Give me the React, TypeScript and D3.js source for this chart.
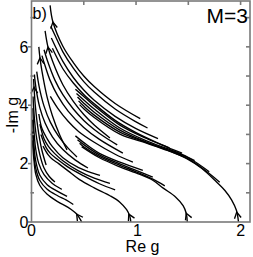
import React from 'react'
import * as d3 from 'd3'

// flow lines, grouped by the fixed point they leave from (Re g, -Im g)
// family ending at g = 2
const f4a = [[0.178,7.42],[0.205,6.85],[0.3,6.02],[0.4,5.46],[0.5,5.0],[0.6,4.64],[0.8,4.06],[1.04,3.54]]
const f4b = [[0.185,6.7],[0.25,6.2],[0.3,5.83],[0.4,5.27],[0.5,4.81],[0.6,4.45],[0.8,3.87],[1.0,3.43],[1.11,3.22]]
const f4c = [[0.19,6.3],[0.3,5.5],[0.4,4.95],[0.5,4.52],[0.6,4.17],[0.8,3.62],[1.0,3.2],[1.21,2.86]]
const f4d = [[0.2,5.95],[0.3,5.25],[0.4,4.76],[0.5,4.37],[0.6,4.05],[0.8,3.48],[1.0,3.06],[1.2,2.72],[1.32,2.54]]
const f4e = [[0.42,4.55],[0.5,4.3],[0.6,3.98],[0.845,3.32],[1.1,2.86],[1.3,2.56],[1.44,2.36]]
const f4f = [[0.43,4.4],[0.5,4.18],[0.6,3.87],[0.845,3.22],[1.1,2.78],[1.3,2.51],[1.45,2.3],[1.56,2.1]]
const f4g = [[0.44,4.28],[0.5,4.07],[0.6,3.76],[0.845,3.15],[1.1,2.74],[1.3,2.48],[1.5,2.2],[1.7,1.72]]
const f4h = [[0.45,4.15],[0.5,3.97],[0.6,3.66],[0.845,3.08],[1.1,2.72],[1.3,2.46],[1.5,2.16],[1.7,1.66],[1.8,1.36]]
const f4m = [[0.46,4.02],[0.5,3.88],[0.6,3.58],[0.845,3.01],[1.1,2.7],[1.3,2.45],[1.485,2.17],[1.63,1.83],[1.77,1.37],[1.85,1.08],[1.915,0.75],[1.96,0.4],[1.98,0]]

// family ending at g = 1.5
const f3a = [[0.13,6.55],[0.158,5.99],[0.2,5.52],[0.3,4.7],[0.4,4.13],[0.5,3.68],[0.6,3.32],[0.75,2.88]]
const f3b = [[0.12,5.9],[0.15,5.55],[0.224,4.86],[0.3,4.36],[0.4,3.87],[0.5,3.48],[0.6,3.17],[0.7,2.91],[0.82,2.64]]
const f3c = [[0.1,5.7],[0.13,5.35],[0.177,4.86],[0.25,4.33],[0.35,3.8],[0.5,3.24],[0.65,2.83],[0.874,2.36]]
const f3d = [[0.18,4.3],[0.25,3.9],[0.35,3.45],[0.45,3.1],[0.6,2.73],[0.8,2.32],[0.97,2.05]]
const f3e = [[0.42,2.95],[0.5,2.72],[0.65,2.35],[0.845,2.05],[1.065,1.77]]
const f3f = [[0.44,2.82],[0.5,2.65],[0.65,2.3],[0.845,1.99],[1.0,1.77],[1.16,1.54]]
const f3g = [[0.46,2.7],[0.5,2.58],[0.65,2.25],[0.845,1.94],[1.0,1.72],[1.16,1.47],[1.275,1.24]]
const f3m = [[0.48,2.58],[0.65,2.2],[0.845,1.89],[1.0,1.68],[1.16,1.43],[1.26,1.16],[1.38,0.85],[1.45,0.56],[1.48,0.3],[1.49,0]]

// family ending at g = 1
const f2a = [[0.07,6.0],[0.081,5.62],[0.1,5.17],[0.15,4.27],[0.2,3.64],[0.27,2.98],[0.34,2.47]]
const f2b = [[0.05,5.15],[0.062,4.86],[0.08,4.52],[0.12,3.97],[0.18,3.42],[0.26,2.93],[0.35,2.53],[0.435,2.23]]
const f2c = [[0.028,5.05],[0.033,4.86],[0.05,4.42],[0.08,3.91],[0.13,3.39],[0.2,2.92],[0.3,2.48],[0.42,2.12],[0.54,1.85]]
const f2d = [[0.07,3.7],[0.1,3.2],[0.15,2.85],[0.2,2.58],[0.3,2.2],[0.45,1.86],[0.55,1.72],[0.655,1.6]]
const f2e = [[0.08,3.35],[0.12,2.85],[0.16,2.6],[0.22,2.35],[0.3,2.1],[0.45,1.75],[0.6,1.5],[0.75,1.32]]
const f2f = [[0.09,3.0],[0.14,2.55],[0.18,2.35],[0.24,2.17],[0.35,1.88],[0.5,1.58],[0.65,1.31],[0.8,1.1]]
const f2m = [[0.11,2.6],[0.16,2.3],[0.2,2.15],[0.26,2.0],[0.35,1.75],[0.46,1.45],[0.6,1.17],[0.75,0.9],[0.845,0.68],[0.91,0.42],[0.94,0.2],[0.95,0]]

// family ending at g = 0.5
const f1a = [[0.02,4.9],[0.024,4.62],[0.035,4.05],[0.05,3.52],[0.075,2.9],[0.1,2.45],[0.14,1.95]]
const f1b = [[0.015,4.3],[0.02,3.95],[0.03,3.45],[0.05,2.85],[0.08,2.3],[0.12,1.85],[0.17,1.56],[0.224,1.37]]
const f1c = [[0.013,3.9],[0.02,3.3],[0.04,2.5],[0.07,2.0],[0.12,1.62],[0.2,1.32],[0.29,1.12]]
const f1d = [[0.011,3.5],[0.02,2.8],[0.04,2.1],[0.08,1.6],[0.15,1.28],[0.25,1.05],[0.34,0.88]]
const f1e = [[0.01,3.1],[0.02,2.5],[0.04,1.85],[0.08,1.42],[0.15,1.12],[0.25,0.9],[0.33,0.76],[0.4,0.6]]
const f1m = [[0.009,2.8],[0.02,2.25],[0.04,1.65],[0.08,1.25],[0.15,0.95],[0.25,0.7],[0.35,0.5],[0.43,0.28],[0.465,0.1],[0.48,0]]

// where the arrow heads sit: line name and -Im g at the tip
const arrowLine = ['f4a','f3a','f2a','f1a','f4m','f3m','f2m','f1m']
const arrowY = [6.85, 5.99, 5.62, 4.62, 0.34, 0.3, 0.27, 0.27]

const xTicks = [0, 1, 2]
const yTicks = [0, 2, 4, 6]
const yMinor = [1, 3, 5, 7]
const topTicks = [0.5, 1, 1.5, 2]
const rightTicks = [1, 2, 3, 4, 5, 6, 7]

const flowLines: Record<string, number[][]> = {
  f4a, f4b, f4c, f4d, f4e, f4f, f4g, f4h, f4m,
  f3a, f3b, f3c, f3d, f3e, f3f, f3g, f3m,
  f2a, f2b, f2c, f2d, f2e, f2f, f2m,
  f1a, f1b, f1c, f1d, f1e, f1m,
}

const font = 'Liberation Sans, Arial, Helvetica, sans-serif'

export default function App() {
  const width = 253
  const height = 257
  const x = d3.scaleLinear().domain([0, 2.09]).range([31.5, 250])
  const y = d3.scaleLinear().domain([0, 7.57]).range([222, 1])
  const line = d3.line<number[]>()
    .x(d => x(d[0]))
    .y(d => y(d[1]))
    .curve(d3.curveCatmullRom.alpha(0.5))

  const arrows = arrowLine.map((name, i) => {
    const pts = flowLines[name]
    const yv = arrowY[i]
    for (let k = 0; k < pts.length - 1; k++) {
      const [x0, y0] = pts[k]
      const [x1, y1] = pts[k + 1]
      if (yv <= y0 && yv >= y1) {
        const t = (y0 - yv) / (y0 - y1)
        const tx = x(x0 + t * (x1 - x0))
        const ty = y(yv)
        let dx = x(x0) - x(x1)
        let dy = y(y0) - y(y1)
        const len = Math.hypot(dx, dy)
        dx /= len; dy /= len
        const L = 7, a = 0.5
        const arm = (s: number) => {
          const c = Math.cos(s * a), sn = Math.sin(s * a)
          const bx = -dx * c + dy * sn
          const by = -dx * sn - dy * c
          return [tx + L * bx, ty + L * by]
        }
        const p1 = arm(1), p2 = arm(-1)
        return `M${p1[0]},${p1[1]}L${tx},${ty}L${p2[0]},${p2[1]}`
      }
    }
    return ''
  })

  return (
    <svg width={width} height={height} style={{position: 'absolute', left: 0, top: 0}}>
      <rect width={width} height={height} fill="white" />
      <g fill="none" stroke="black" strokeWidth={1.35}>
        {Object.keys(flowLines).map(k => (
          <path key={k} d={line(flowLines[k]) || ''} />
        ))}
        {arrows.map((d, i) => <path key={i} d={d} />)}
      </g>
      <g stroke="#7a7a7a" strokeWidth={1.6}>
        {yTicks.map(t => <line key={'ym' + t} x1={x(0) - 3.5} x2={x(0)} y1={y(t)} y2={y(t)} />)}
        {yMinor.map(t => <line key={'yn' + t} x1={x(0) - 1} x2={x(0) + 2.5} y1={y(t)} y2={y(t)} />)}
        {rightTicks.map(t => <line key={'r' + t} x1={250 - 4} x2={250} y1={y(t)} y2={y(t)} />)}
        {topTicks.map(t => <line key={'t' + t} x1={x(t)} x2={x(t)} y1={1} y2={5} />)}
        <rect x={x(0)} y={1} width={250 - x(0)} height={222 - 1} fill="none" />
      </g>
      <g fontFamily={font} fontSize={16} fill="black">
        {yTicks.map(t => (
          <text key={'yl' + t} x={28.5} y={y(t) + 5.8} textAnchor="end">{t}</text>
        ))}
        {xTicks.map(t => (
          <text key={'xl' + t} x={x(t) + (t === 1 ? 1.5 : 0)} y={236} textAnchor="middle">{t}</text>
        ))}
        <text x={142.5} y={252} textAnchor="middle">Re g</text>
        <text transform="translate(17.5,115) rotate(-90)" textAnchor="middle">-Im g</text>
        <text x={32.5} y={18.5}>b)</text>
        <text x={248} y={23} fontSize={21} textAnchor="end">M=3</text>
      </g>
    </svg>
  )
}
